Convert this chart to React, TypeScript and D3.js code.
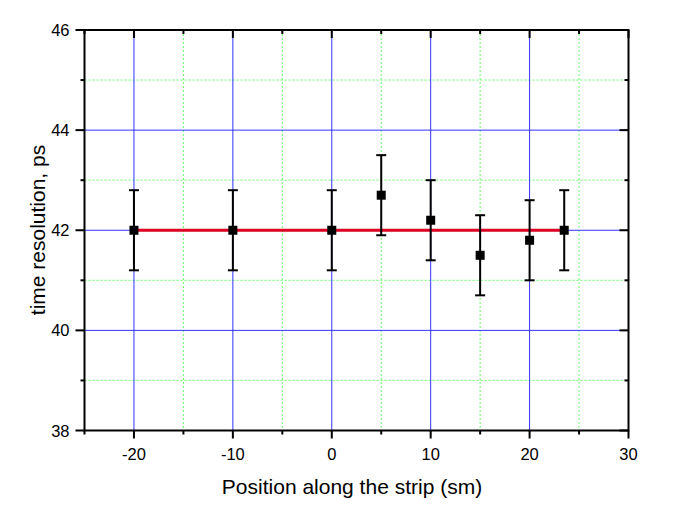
import React from "react";
import * as d3 from "d3";

const xs = [-20, -10, 0, 5, 10, 15, 20, 23.5];
const ys = [42.0, 42.0, 42.0, 42.7, 42.2, 41.5, 41.8, 42.0];
const errs = [0.8, 0.8, 0.8, 0.8, 0.8, 0.8, 0.8, 0.8];
const fitLevel = 42.0;
const xMajor = [-20, -10, 0, 10, 20, 30];
const xMinor = [-25, -15, -5, 5, 15, 25];
const yMajor = [38, 40, 42, 44, 46];
const yMinor = [39, 41, 43, 45];

const W = 675, H = 515;
const L = 84.5, R = 628.5, T = 30, B = 430.5;

export default function App() {
  const x = d3.scaleLinear().domain([-25, 30]).range([L, R]);
  const y = d3.scaleLinear().domain([38, 46]).range([B, T]);
  const font = "'Liberation Sans', Arial, sans-serif";
  const line = d3.line<number>().x((d) => x(d)).y(() => y(fitLevel));
  return (
    <svg width={W} height={H} style={{ position: "absolute", left: 0, top: 0, background: "#fff" }} fontFamily={font}>
      {/* grid */}
      {xMinor.filter((v) => v > -25 && v < 30).map((v) => (
        <line key={"gxm" + v} x1={x(v)} x2={x(v)} y1={T} y2={B} stroke="#66ff66" strokeWidth={1} strokeDasharray="2,2" />
      ))}
      {yMinor.map((v) => (
        <line key={"gym" + v} x1={L} x2={R} y1={y(v)} y2={y(v)} stroke="#66ff66" strokeWidth={1} strokeDasharray="2,2" />
      ))}
      {xMajor.filter((v) => v > -25 && v < 30).map((v) => (
        <line key={"gx" + v} x1={x(v)} x2={x(v)} y1={T} y2={B} stroke="#3333ff" strokeWidth={1} />
      ))}
      {yMajor.filter((v) => v > 38 && v < 46).map((v) => (
        <line key={"gy" + v} x1={L} x2={R} y1={y(v)} y2={y(v)} stroke="#3333ff" strokeWidth={1} />
      ))}
      {/* fit line */}
      <path d={line([xs[0], xs[xs.length - 1]]) || ""} stroke="#dd0022" strokeWidth={3} fill="none" />
      {/* error bars */}
      {xs.map((v, i) => (
        <g key={"e" + i} stroke="#000" strokeWidth={2}>
          <line x1={x(v)} x2={x(v)} y1={y(ys[i] - errs[i])} y2={y(ys[i] + errs[i])} />
          <line x1={x(v) - 5} x2={x(v) + 5} y1={y(ys[i] + errs[i])} y2={y(ys[i] + errs[i])} />
          <line x1={x(v) - 5} x2={x(v) + 5} y1={y(ys[i] - errs[i])} y2={y(ys[i] - errs[i])} />
        </g>
      ))}
      {xs.map((v, i) => (
        <rect key={"p" + i} x={x(v) - 4.5} y={y(ys[i]) - 4.5} width={9} height={9} fill="#000" />
      ))}
      {/* frame */}
      <rect x={L} y={T} width={R - L} height={B - T} fill="none" stroke="#000" strokeWidth={2} />
      {/* x ticks */}
      {xMajor.map((v) => (
        <g key={"xt" + v} stroke="#000" strokeWidth={2}>
          <line x1={x(v)} x2={x(v)} y1={B} y2={B + 8} />
          <line x1={x(v)} x2={x(v)} y1={T} y2={T + 8} />
        </g>
      ))}
      {xMinor.map((v) => (
        <g key={"xmt" + v} stroke="#000" strokeWidth={2}>
          <line x1={x(v)} x2={x(v)} y1={B} y2={B + 4} />
          <line x1={x(v)} x2={x(v)} y1={T} y2={T + 4} />
        </g>
      ))}
      {yMajor.map((v) => (
        <g key={"yt" + v} stroke="#000" strokeWidth={2}>
          <line x1={L - 9} x2={L} y1={y(v)} y2={y(v)} />
          <line x1={R - 9} x2={R} y1={y(v)} y2={y(v)} />
        </g>
      ))}
      {yMinor.map((v) => (
        <g key={"ymt" + v} stroke="#000" strokeWidth={2}>
          <line x1={L - 4} x2={L} y1={y(v)} y2={y(v)} />
          <line x1={R - 4} x2={R} y1={y(v)} y2={y(v)} />
        </g>
      ))}
      {/* tick labels */}
      {xMajor.map((v) => (
        <text key={"xl" + v} x={x(v)} y={B + 29} textAnchor="middle" fontSize={16.5}>{v}</text>
      ))}
      {yMajor.map((v) => (
        <text key={"yl" + v} x={L - 15} y={y(v) + 6} textAnchor="end" fontSize={16.5}>{v}</text>
      ))}
      <text x={352} y={494} textAnchor="middle" fontSize={21}>Position along the strip (sm)</text>
      <text transform={`translate(45,230) rotate(-90)`} textAnchor="middle" fontSize={21}>time resolution, ps</text>
    </svg>
  );
}
